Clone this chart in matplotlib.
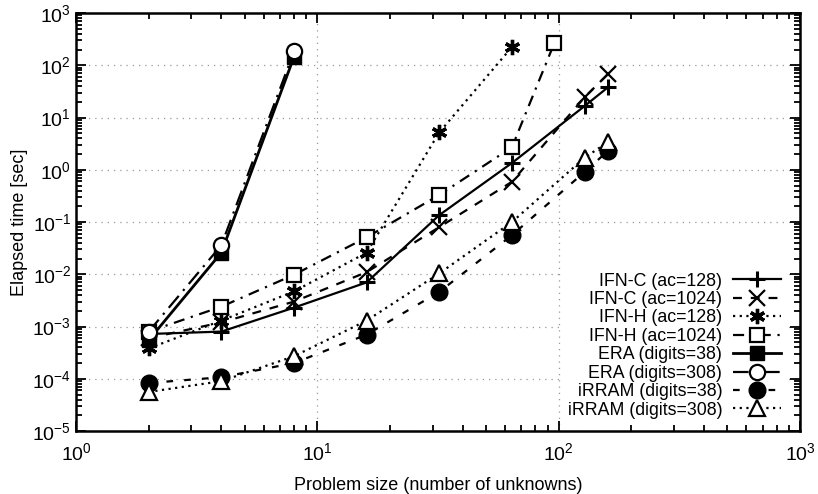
import numpy as np
import matplotlib.pyplot as plt

plt.rcParams['font.family'] = ['Liberation Sans', 'DejaVu Sans']
plt.rcParams['mathtext.fontset'] = 'custom'
plt.rcParams['mathtext.rm'] = 'Liberation Sans'

# problem sizes
n_full = [2, 4, 8, 16, 32, 64, 128, 160]
n_ifnh128 = [2, 4, 8, 16, 32, 64]
n_ifnh1024 = [2, 4, 8, 16, 32, 64, 96]
n_era = [2, 4, 8]

# elapsed times [sec]
ifnc_128 = [7.2e-4, 8.0e-4, 2.3e-3, 7.0e-3, 0.136, 1.35, 16.6, 38]
ifnc_1024 = [6.0e-4, 1.2e-3, 3.0e-3, 0.011, 0.08, 0.59, 24.5, 68]
ifnh_128 = [3.8e-4, 1.3e-3, 4.7e-3, 0.026, 5.2, 224]
ifnh_1024 = [8.0e-4, 2.4e-3, 9.8e-3, 0.051, 0.33, 2.7, 270]
era_38 = [5.5e-4, 0.026, 145]
era_308 = [8.0e-4, 0.036, 185]
irram_38 = [8.3e-5, 1.07e-4, 2.0e-4, 7.0e-4, 4.6e-3, 0.056, 0.91, 2.3]
irram_308 = [5.6e-5, 9.0e-5, 2.7e-4, 1.3e-3, 0.0104, 0.1, 1.7, 3.4]

fig = plt.figure(figsize=(8.18, 4.94), dpi=100)
ax = fig.add_axes([0.093, 0.1275, 0.885, 0.846])

lw = 1.6
ms = 10
ax.plot(n_full, ifnc_128, '-', color='k', lw=lw, marker='+', ms=ms+2, mew=2.2,
        label='IFN-C (ac=128)')
ax.plot(n_full, ifnc_1024, color='k', lw=lw, ls=(0, (4, 4)), marker='x', ms=ms+1, mew=1.6,
        label='IFN-C (ac=1024)')
ax.plot(n_ifnh128, ifnh_128, color='k', lw=lw, ls=(0, (1, 2)), marker=(6, 2, 0), ms=ms+1, mew=2.4,
        label='IFN-H (ac=128)')
ax.plot(n_ifnh1024, ifnh_1024, color='k', lw=lw, ls=(0, (5, 3, 1, 3)), marker='s', ms=ms,
        mfc='white', mew=1.6, label='IFN-H (ac=1024)')
ax.plot(n_era, era_38, '-', color='k', lw=lw+0.4, marker='s', ms=ms, mfc='k',
        label='ERA (digits=38)')
ax.plot(n_era, era_308, color='k', lw=lw, ls=(0, (7, 3, 1, 3)), marker='o', ms=ms+1,
        mfc='white', mew=1.6, label='ERA (digits=308)')
ax.plot(n_full, irram_38, color='k', lw=lw, ls=(0, (3, 5)), marker='o', ms=ms+2, mfc='k',
        label='iRRAM (digits=38)')
ax.plot(n_full, irram_308, color='k', lw=lw, ls=(0, (1, 2)), marker='^', ms=ms+1,
        mfc='white', mew=1.6, label='iRRAM (digits=308)')

ax.set_xscale('log')
ax.set_yscale('log')
ax.set_xlim(1, 1000)
ax.set_ylim(1e-5, 1e3)
ax.set_yticks([10.0 ** k for k in range(-5, 4)])
ax.set_xticks([1, 10, 100, 1000])

ax.grid(True, which='major', ls=(0, (1, 4)), color='#999999', lw=0.9)
ax.tick_params(which='both', direction='in', top=True, right=True, labelsize=14,
               width=1.3, colors='k')
ax.tick_params(which='major', length=7)
ax.tick_params(which='minor', length=4)
ax.tick_params(axis='x', pad=8)
for s in ax.spines.values():
    s.set_linewidth(1.8)

ax.set_xlabel('Problem size (number of unknowns)', fontsize=13, labelpad=9)
ax.set_ylabel('Elapsed time [sec]', fontsize=13, labelpad=3)

leg = ax.legend(loc='lower right', markerfirst=False, fontsize=12.8, frameon=True,
                fancybox=False, framealpha=1, edgecolor='none', facecolor='white',
                handlelength=2.7, labelspacing=0.08, borderaxespad=0,
                bbox_to_anchor=(0.981, 0.017),
                handletextpad=0.6, borderpad=0.3)
for t in leg.get_texts():
    t.set_ha('right')

fig.savefig('out.png', dpi=100)
